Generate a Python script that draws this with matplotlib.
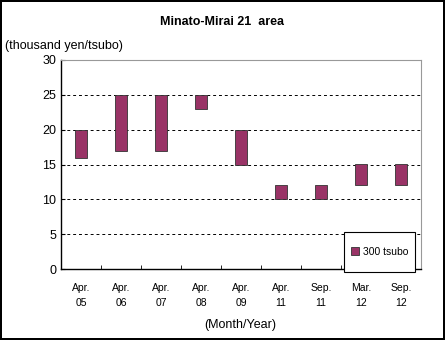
import matplotlib
matplotlib.use("Agg")
import matplotlib.pyplot as plt
from matplotlib.patches import Rectangle
import numpy as np

plt.rcParams['font.family'] = ['Liberation Sans', 'DejaVu Sans']

periods = ["Apr.\n05", "Apr.\n06", "Apr.\n07", "Apr.\n08", "Apr.\n09",
           "Apr.\n11", "Sep.\n11", "Mar.\n12", "Sep.\n12"]
low = [16, 17, 17, 23, 15, 10, 10, 12, 12]
high = [20, 25, 25, 25, 20, 12, 12, 15, 15]

fig = plt.figure(figsize=(4.45, 3.4), dpi=100)
fig.patch.set_edgecolor('black')
fig.patch.set_linewidth(1.5)
ax = fig.add_axes([61 / 445, 1 - 269 / 340, 360 / 445, 209 / 340])

x = np.arange(len(periods))
bars = ax.bar(x, np.array(high) - np.array(low), bottom=low, width=0.3,
              color='#993366', edgecolor='#333333', linewidth=0.6,
              label='300 tsubo', zorder=3)

ax.set_xlim(-0.5, len(periods) - 0.5)
ax.set_ylim(0, 30)
ax.set_yticks(range(0, 31, 5))
ax.set_xticks(x)
ax.set_xticklabels(periods, fontsize=7.5, linespacing=1.7)
ax.set_xticks(np.arange(-0.5, len(periods), 1), minor=True)
ax.tick_params(axis='x', which='major', length=0, pad=10)
ax.tick_params(axis='x', which='minor', length=3, direction='in')
ax.tick_params(axis='y', labelsize=9, length=3, direction='in')

for v in range(5, 30, 5):
    ax.axhline(v, color='black', linestyle=(0, (3, 3)), linewidth=0.7, zorder=1)

for s in ['top', 'right']:
    ax.spines[s].set_color('#999999')
    ax.spines[s].set_linewidth(0.8)
for s in ['left', 'bottom']:
    ax.spines[s].set_color('black')
    ax.spines[s].set_linewidth(1.0)

# legend box (Excel style, hanging below the plot area)
box = Rectangle((283 / 360, -3 / 209), 71 / 360, 40 / 209,
                transform=ax.transAxes, facecolor='white', edgecolor='black',
                linewidth=0.8, clip_on=False, zorder=4)
ax.add_patch(box)
leg = ax.legend(loc='center', bbox_to_anchor=(318.5 / 360, 17 / 209),
                fontsize=7.5, frameon=False, handlelength=0.8,
                handleheight=0.8, handletextpad=0.3, borderpad=0,
                borderaxespad=0)
leg.set_zorder(5)

fig.text(0.5, 1 - 22 / 340, "Minato-Mirai 21  area", ha='center', va='center',
         fontsize=9, fontweight='bold')
fig.text(5 / 445, 1 - 46 / 340, "(thousand yen/tsubo)", ha='left', va='center',
         fontsize=9)
fig.text(240 / 445, 1 - 325 / 340, "(Month/Year)", ha='center', va='center',
         fontsize=9)

fig.savefig("out.png", dpi=100)
